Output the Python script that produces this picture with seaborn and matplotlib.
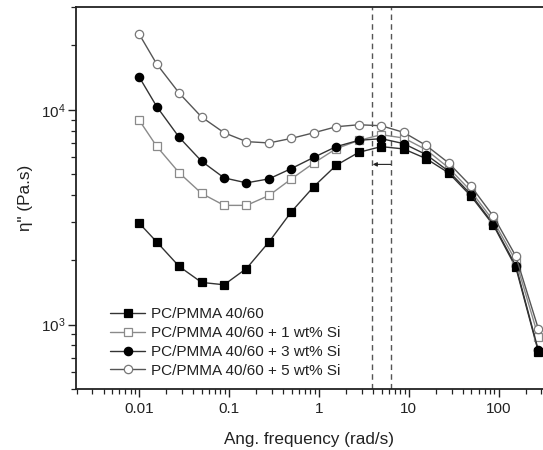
import numpy as np
import pandas as pd
import matplotlib
matplotlib.use("Agg")
import matplotlib.pyplot as plt
import seaborn as sns

freq = [0.01, 0.0156, 0.0278, 0.0494, 0.0879, 0.156, 0.278, 0.494, 0.879,
        1.56, 2.78, 4.94, 8.79, 15.6, 27.8, 49.4, 87.9, 156, 278]

eta_0 = [2962, 2427, 1865, 1572, 1533, 1825, 2427, 3355, 4395, 5520,
         6340, 6740, 6573, 5928, 5087, 3965, 2900, 1845, 747]
eta_1 = [8925, 6760, 5087, 4080, 3590, 3590, 3993, 4770, 5657, 6595,
         7200, 7660, 7390, 6525, 5370, 4180, 3035, 1980, 877]
eta_3 = [14170, 10360, 7440, 5760, 4820, 4570, 4770, 5330, 6010, 6740,
         7210, 7340, 6960, 6190, 5180, 4035, 2930, 1878, 758]
eta_5 = [22430, 16340, 11950, 9250, 7820, 7110, 7010, 7360, 7820, 8340,
         8520, 8430, 7850, 6830, 5660, 4410, 3190, 2082, 955]

labels = ["PC/PMMA 40/60", "PC/PMMA 40/60 + 1 wt% Si",
          "PC/PMMA 40/60 + 3 wt% Si", "PC/PMMA 40/60 + 5 wt% Si"]
peak_lines = [3.9, 6.35]
arrow_y = 5570

sns.set_style("ticks")
plt.rcParams['font.family'] = ['Liberation Sans', 'DejaVu Sans']
plt.rcParams['text.color'] = '#222222'
plt.rcParams['axes.labelcolor'] = '#222222'
plt.rcParams['xtick.color'] = '#222222'
plt.rcParams['ytick.color'] = '#222222'

fig = plt.figure(figsize=(5.43, 4.5), dpi=100)
ax = fig.add_axes([76/543, 1 - 389.3/450, 1 - 76/543, (389.3 - 7.3)/450])

styles = [
    dict(marker='s', color='#333333', markerfacecolor='black', markeredgecolor='black'),
    dict(marker='s', color='#8a8a8a', markerfacecolor='white', markeredgecolor='#8a8a8a'),
    dict(marker='o', color='#333333', markerfacecolor='black', markeredgecolor='black'),
    dict(marker='o', color='#555555', markerfacecolor='white', markeredgecolor='#777777'),
]
series = [eta_0, eta_1, eta_3, eta_5]
for vals, lab, st in zip(series, labels, styles):
    df = pd.DataFrame({"freq": freq, "eta": vals})
    sns.lineplot(data=df, x="freq", y="eta", ax=ax, label=lab, lw=1.0,
                 markersize=6, markeredgewidth=0.9, errorbar=None, sort=False, **st)

ax.set_xscale('log')
ax.set_yscale('log')
ax.set_xlim(0.00197, 10 ** ((543 - 139.3) / 89.8 - 2))
ax.set_ylim(500, 30000)

for xv in peak_lines:
    ax.axvline(xv, color='#555555', lw=1.0, ls=(0, (4, 3)), zorder=1)
ax.annotate('', xy=(peak_lines[0] * 1.02, arrow_y), xytext=(peak_lines[1], arrow_y),
            arrowprops=dict(arrowstyle='-|>', color='#222222', lw=0.8, mutation_scale=6,
                            shrinkA=0, shrinkB=0))

ax.spines['right'].set_visible(False)
for s in ['left', 'bottom', 'top']:
    ax.spines[s].set_linewidth(1.3)
    ax.spines[s].set_color('#222222')

ax.tick_params(which='major', direction='out', length=6, width=1.0, labelsize=11, pad=3)
ax.tick_params(which='minor', direction='out', length=3.5, width=0.9)
ax.tick_params(axis='y', which='major', pad=1.5)
ax.xaxis.set_major_formatter(matplotlib.ticker.FuncFormatter(lambda v, p: f"{v:g}"))

ax.set_xlabel("Ang. frequency (rad/s)", fontsize=12.3, labelpad=12)
ax.set_ylabel('η" (Pa.s)', fontsize=12.3, labelpad=6)

leg = ax.legend(loc='upper left', bbox_to_anchor=(0.073, 0.215), frameon=False,
                fontsize=11, handlelength=2.3, handletextpad=0.35, labelspacing=0.32,
                borderpad=0, borderaxespad=0)

fig.savefig("out.png", dpi=100)
